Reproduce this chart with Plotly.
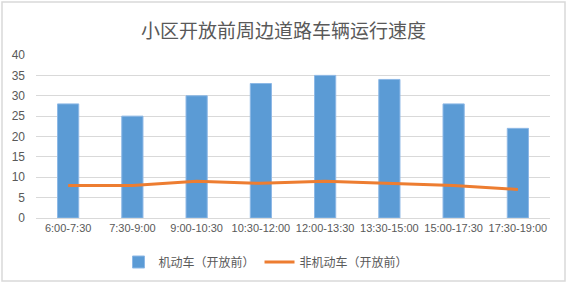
import plotly.graph_objects as go

categories = ["6:00-7:30", "7:30-9:00", "9:00-10:30", "10:30-12:00",
              "12:00-13:30", "13:30-15:00", "15:00-17:30", "17:30-19:00"]
motor = [28, 25, 30, 33, 35, 34, 28, 22]
nonmotor = [8, 8, 9, 8.5, 9, 8.5, 8, 7]
y_ticks = [0, 5, 10, 15, 20, 25, 30, 35, 40]

W, H = 567, 284
L, R, T, B = 36, 17, 55, 66
pw, ph = W - L - R, H - T - B

def px_x(x):
    return (x - L) / pw

def px_y(y):
    return (H - B - y) / ph

fig = go.Figure()
fig.add_trace(go.Bar(
    x=categories, y=motor, name="机动车（开放前）",
    marker=dict(color="#5B9BD5", line=dict(color="#8DB8E6", width=1)),
    width=0.33,
))
fig.add_trace(go.Scatter(
    x=categories, y=nonmotor, name="非机动车（开放前）",
    mode="lines", line=dict(color="#ED7D31", width=3),
))

fig.update_layout(
    width=W, height=H,
    margin=dict(l=L, r=R, t=T, b=B, autoexpand=False),
    paper_bgcolor="white", plot_bgcolor="white",
    font=dict(family="Liberation Sans, Noto Sans CJK SC", size=11, color="#595959"),
    title=dict(text="小区开放前周边道路车辆运行速度", x=0.5, xanchor="center",
               y=1 - 31 / H, yanchor="middle",
               font=dict(family="Noto Sans CJK SC", size=19, color="#595959")),
    showlegend=True,
    legend=dict(orientation="h", x=px_x(266), xanchor="center", y=px_y(262), yanchor="middle",
                font=dict(family="Noto Sans CJK SC", size=12, color="#595959"),
                itemwidth=30, traceorder="normal"),
    shapes=[dict(type="rect", xref="paper", yref="paper",
                 x0=px_x(2), x1=px_x(565), y0=px_y(281), y1=px_y(2),
                 line=dict(color="#D9D9D9", width=1.5), layer="below")],
)
fig.update_xaxes(showgrid=False, showline=True, linecolor="#D9D9D9", linewidth=1,
                 ticks="", tickangle=0, automargin=False,
                 tickfont=dict(size=11, color="#595959"))
fig.update_yaxes(range=[0, 40], tickvals=y_ticks, showgrid=True, gridcolor="#D9D9D9",
                 gridwidth=1, zeroline=False, showline=False, ticks="", automargin=False,
                 ticklabelstandoff=10, tickfont=dict(size=12, color="#595959"))

fig.write_html("out.html", config={"displayModeBar": False},
               post_script="document.body.style.margin='0';document.body.style.overflow='hidden';")
